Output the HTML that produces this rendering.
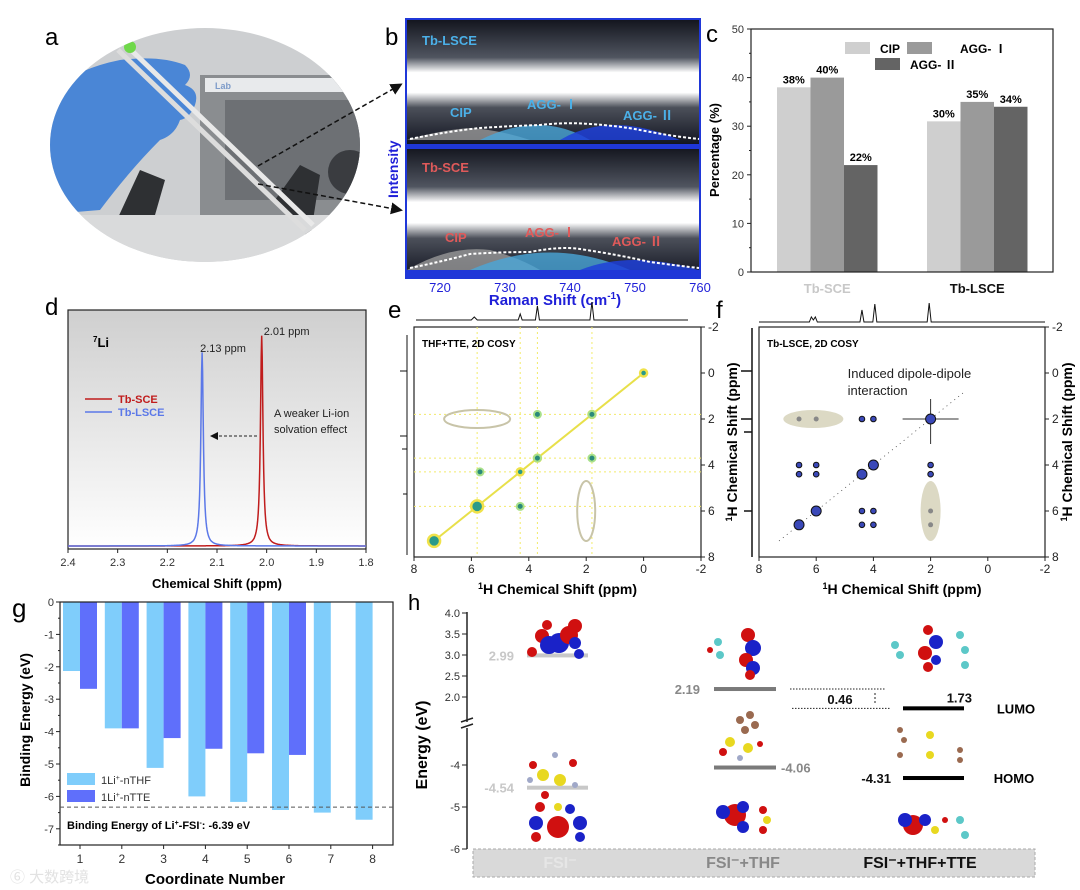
<!DOCTYPE html>
<html><head><meta charset="utf-8"><style>
html,body{margin:0;padding:0;background:#fff}
svg{display:block;font-family:"Liberation Sans","Noto Sans CJK SC",sans-serif}
</style></head><body>
<svg id="fig" width="1080" height="890" viewBox="0 0 1080 890" xmlns="http://www.w3.org/2000/svg">
<defs>
<linearGradient id="dBg" x1="0" y1="0" x2="0" y2="1"><stop offset="0" stop-color="#cfcfcf"/><stop offset="1" stop-color="#ffffff"/></linearGradient>
<linearGradient id="band" x1="0" y1="0" x2="0" y2="1"><stop offset="0" stop-color="#14161f"/><stop offset="0.3" stop-color="#505560"/><stop offset="0.42" stop-color="#fff"/><stop offset="0.58" stop-color="#fff"/><stop offset="0.7" stop-color="#4c505a"/><stop offset="1" stop-color="#111420"/></linearGradient>
<clipPath id="ell"><ellipse cx="205" cy="145" rx="155" ry="117"/></clipPath>
<marker id="ah" markerWidth="8" markerHeight="8" refX="6" refY="4" orient="auto"><path d="M0,0 L8,4 L0,8 z" fill="#111"/></marker>
</defs>

<!-- Panel a -->
<g>
<text x="45" y="45" font-size="24">a</text>
<g clip-path="url(#ell)">
<rect x="40" y="20" width="330" height="250" fill="#cdcfd1"/>
<rect x="200" y="75" width="170" height="140" fill="#8a8d90"/>
<rect x="225" y="100" width="140" height="100" fill="#6d7074"/>
<rect x="205" y="78" width="165" height="14" fill="#e8eaec"/>
<text x="215" y="89" font-size="9" fill="#7d9bc9" font-weight="bold">Lab</text>
<path d="M110,235 L140,170 L165,180 L145,250 Z" fill="#2e3033"/>
<path d="M275,200 L300,165 L320,175 L310,240 Z" fill="#2e3033"/>
<circle cx="350" cy="172" r="22" fill="#3a3c40"/>
<rect x="40" y="215" width="330" height="60" fill="#d9dadb"/>
<path d="M40,100 Q70,70 120,60 Q160,55 185,65 Q195,75 185,85 Q200,90 195,105 Q190,118 180,120 Q175,135 160,140 Q130,170 100,210 L40,215 Z" fill="#4a86d6"/>
<path d="M118,50 L305,230" stroke="#ddd" stroke-width="5"/>
<path d="M128,47 L313,225" stroke="#e9e9e9" stroke-width="5"/>
<circle cx="130" cy="47" r="6" fill="#6fd84a"/>
</g>
<path d="M258,166 L400,85" stroke="#111" stroke-width="1.5" stroke-dasharray="5,3" marker-end="url(#ah)"/>
<path d="M258,184 L400,210" stroke="#111" stroke-width="1.5" stroke-dasharray="5,3" marker-end="url(#ah)"/>
</g>

<!-- Panel b -->
<g>
<text x="385" y="45" font-size="24">b</text>
<rect x="407" y="20" width="292" height="125" fill="url(#band)"/>
<rect x="407" y="148" width="292" height="129" fill="url(#band)"/>
<rect x="406" y="19" width="294" height="259" fill="none" stroke="#1f37d8" stroke-width="2"/>
<rect x="406" y="144" width="294" height="5" fill="#1f37d8"/>
<rect x="406" y="270" width="294" height="7" fill="#1f37d8"/>
<path d="M407,140 Q440,130 470,128 Q500,130 530,140Z" fill="#999" opacity="0.8"/>
<path d="M480,140 Q540,110 590,140Z" fill="#4aa6d8" opacity="0.8"/>
<path d="M560,140 Q610,110 680,140Z" fill="#1f3fd8" opacity="0.85"/>
<path d="M407,270 Q450,245 490,250 Q520,258 540,270Z" fill="#999" opacity="0.8"/>
<path d="M470,270 Q550,235 630,270Z" fill="#4aa6d8" opacity="0.8"/>
<path d="M580,270 Q630,250 699,270Z" fill="#1f3fd8" opacity="0.85"/>
<path d="M410,139 Q450,131 480,128 Q510,126 540,125 Q565,122 590,124 Q620,126 640,130 Q670,136 699,139" fill="none" stroke="#fff" stroke-width="2" stroke-dasharray="3,2"/>
<path d="M410,268 Q440,262 470,254 Q500,252 530,252 Q560,246 580,249 Q620,255 650,262 Q680,266 699,268" fill="none" stroke="#fff" stroke-width="2" stroke-dasharray="3,2"/>
<text x="422" y="45" font-size="13" font-weight="bold" fill="#4bb0e8">Tb-LSCE</text>
<text x="450" y="117" font-size="13" font-weight="bold" fill="#4bb0e8">CIP</text>
<text x="527" y="109" font-size="13" font-weight="bold" fill="#4bb0e8">AGG- Ⅰ</text>
<text x="623" y="120" font-size="13" font-weight="bold" fill="#4bb0e8">AGG- Ⅱ</text>
<text x="422" y="172" font-size="13" font-weight="bold" fill="#e05a5a">Tb-SCE</text>
<text x="445" y="242" font-size="13" font-weight="bold" fill="#e05a5a">CIP</text>
<text x="525" y="237" font-size="13" font-weight="bold" fill="#e05a5a">AGG- Ⅰ</text>
<text x="612" y="246" font-size="13" font-weight="bold" fill="#e05a5a">AGG- Ⅱ</text>
<text transform="translate(398,198) rotate(-90)" font-size="14" font-weight="bold" fill="#1f1fd8">Intensity</text>
<g id="bTicks" font-size="13" fill="#1f1fd8" text-anchor="middle"></g>
<text x="555" y="305" font-size="15" font-weight="bold" fill="#1f1fd8" text-anchor="middle">Raman Shift (cm<tspan dy="-6" font-size="10">-1</tspan><tspan dy="6">)</tspan></text>
</g>

<g id="panelC">
<text x="706" y="42" font-size="24">c</text>
</g>

<g id="panelD">
<text x="45" y="315" font-size="24">d</text>
<rect x="68" y="310" width="298" height="239" fill="url(#dBg)" stroke="#222" stroke-width="1.2"/>
</g>

<g id="panelE">
<text x="388" y="318" font-size="24">e</text>
</g>
<g id="panelF">
<text x="716" y="318" font-size="24">f</text>
</g>

<g id="panelG">
<text x="12" y="617" font-size="26">g</text>
</g>

<g id="panelH">
<text x="408" y="610" font-size="22">h</text>
</g>
</svg>

<script>
var NS="http://www.w3.org/2000/svg";
function mk(parent,tag,attrs,txt){var e=document.createElementNS(NS,tag);for(var k in attrs)e.setAttribute(k,attrs[k]);if(txt!==undefined)e.textContent=txt;parent.appendChild(e);return e;}

// ---- Panel b ticks ----
var bTickLabels=[720,730,740,750,760];
var bG=document.getElementById('bTicks');
function bx(v){return 440+(v-720)*6.5;}
bTickLabels.forEach(function(t){var e=mk(bG,'text',{x:bx(t),y:292},t);

});

// ---- Panel c ----
var cGroups=["Tb-SCE","Tb-LSCE"];
var cSeries=["CIP","AGG- Ⅰ","AGG- Ⅱ"];
var cCIP=[38,31];
var cAGG1=[40,35];
var cAGG2=[22,34];
var cLabels=[["38%","40%","22%"],["30%","35%","34%"]];
var cTicks=[0,10,20,30,40,50];
(function(){
var g=document.getElementById('panelC');
var L=751,R=1053,T=29,B=272;
function cy(v){return B-(v/50)*(B-T);}
var cols=["#cfcfcf","#9a9a9a","#646464"];
var vals=[cCIP,cAGG1,cAGG2];
var gx=[777,927],bw=33.5;
cGroups.forEach(function(name,gi){
 vals.forEach(function(s,si){
  var x=gx[gi]+si*bw;
  var r=mk(g,'rect',{x:x,y:cy(s[gi]),width:bw,height:B-cy(s[gi]),fill:cols[si]});
  
  
  var t=mk(g,'text',{x:x+bw/2,y:cy(s[gi])-4,'font-size':11,'font-weight':'bold','text-anchor':'middle'},cLabels[gi][si]);
  
  
 });
 var lbl=mk(g,'text',{x:gx[gi]+bw*1.5,y:293,'font-size':13,'font-weight':'bold','text-anchor':'middle',fill:gi==0?'#c8c8c8':'#111'},name);
 
 
});
mk(g,'rect',{x:L,y:T,width:R-L,height:B-T,fill:'none',stroke:'#222','stroke-width':1.2});
cTicks.forEach(function(t){
 mk(g,'line',{x1:L-4,x2:L,y1:cy(t),y2:cy(t),stroke:'#222'});
 var e=mk(g,'text',{x:L-7,y:cy(t)+4,'font-size':11,'text-anchor':'end',fill:'#333'},t);
 
 
 if(t<50) mk(g,'line',{x1:L-2,x2:L,y1:cy(t+5),y2:cy(t+5),stroke:'#222'});
});
var yt=mk(g,'text',{transform:'translate(719,150) rotate(-90)','font-size':13,'font-weight':'bold','text-anchor':'middle'},'Percentage (%)');


var lg=[[845,42,'CIP',880],[907,42,'AGG- Ⅰ',960],[875,58,'AGG- Ⅱ',910]];
lg.forEach(function(l,i){
 var r=mk(g,'rect',{x:l[0],y:l[1],width:25,height:12,fill:cols[i]});
 
 
 var t=mk(g,'text',{x:l[3],y:l[1]+11,'font-size':12,'font-weight':'bold'},l[2]);
 
 
});
})();

// ---- Panel d ----
var dTicks=[2.4,2.3,2.2,2.1,2.0,1.9,1.8];
var dCenters=[2.01,2.13];
var dHeights=[0.88,0.81];
var dWidths=[0.003,0.003];
var dNames=["Tb-SCE","Tb-LSCE"];
(function(){
var g=document.getElementById('panelD');
var L=68,R=366,T=310,B=549;
function dx(v){return L+(2.4-v)/0.6*(R-L);}
function dy(v){return B-3-v*(B-T);}
var cols=["#c01c1c","#5b78e8"];
dCenters.forEach(function(c,i){
 var pts=[];
 for(var p=0;p<=600;p++){var v=2.4-p*0.001;var w=dWidths[i];var y=dHeights[i]*w*w/((v-c)*(v-c)+w*w);pts.push(dx(v).toFixed(1)+','+dy(y).toFixed(1));}
 var pl=mk(g,'polyline',{points:pts.join(' '),fill:'none',stroke:cols[i],'stroke-width':1.5});
 
 
});
dTicks.forEach(function(t){
 mk(g,'line',{x1:dx(t),x2:dx(t),y1:B,y2:B+4,stroke:'#222'});
 var e=mk(g,'text',{x:dx(t),y:B+17,'font-size':11,'text-anchor':'middle',fill:'#333'},t.toFixed(1));
 
 
});
var xt=mk(g,'text',{x:217,y:588,'font-size':13,'font-weight':'bold','text-anchor':'middle'},'Chemical Shift (ppm)');


mk(g,'text',{x:93,y:347,'font-size':13,'font-weight':'bold'}).innerHTML='<tspan dy="-5" font-size="8">7</tspan><tspan dy="5">Li</tspan>';
mk(g,'text',{x:dx(dCenters[0])+2,y:335,'font-size':11,fill:'#222'},'2.01 ppm');
mk(g,'text',{x:dx(dCenters[1])-2,y:352,'font-size':11,fill:'#222'},'2.13 ppm');
mk(g,'line',{x1:85,x2:112,y1:399,y2:399,stroke:cols[0],'stroke-width':1.5});
mk(g,'line',{x1:85,x2:112,y1:412,y2:412,stroke:cols[1],'stroke-width':1.5});
var l1=mk(g,'text',{x:118,y:403,'font-size':11,'font-weight':'bold',fill:cols[0]},'Tb-SCE');


var l2=mk(g,'text',{x:118,y:416,'font-size':11,'font-weight':'bold',fill:cols[1]},'Tb-LSCE');


mk(g,'text',{x:274,y:417,'font-size':11,fill:'#222'},'A weaker Li-ion');
mk(g,'text',{x:274,y:433,'font-size':11,fill:'#222'},'solvation effect');
mk(g,'line',{x1:257,x2:212,y1:436,y2:436,stroke:'#222','stroke-dasharray':'3,2','marker-end':'url(#ah)'});
})();

// ---- Panels e & f (COSY) ----
var eDiagonal=[0,1.8,3.7,4.3,5.8,7.3];
var eCrossX=[3.7,1.8,3.7,1.8,5.7,4.3];
var eCrossY=[1.8,3.7,3.7,1.8,4.3,5.8];
var fPeakX=[2,4,4.4,4,4.4,2,6.6,6.0,6.6,6.0,2,6.0,6.6,4.4,4,4.4,4];
var fPeakY=[2,2,2,4,4.4,4,4,4,4.4,4.4,4.4,6,6.6,6,6,6.6,6.6];
var fGrayX=[6.6,6.0,2,2];
var fGrayY=[2,2,6,6.6];
var cosyTicks=[8,6,4,2,0,-2];
var cosyYTicks=[-2,0,2,4,6,8];
function cosyFrame(g,L,T,W,name,titleX){
 var R=L+W,B=T+230;
 function sx(v){return L+(8-v)*W/10;}
 function sy(v){return T+(v+2)*23;}
 mk(g,'rect',{x:L,y:T,width:W,height:230,fill:'#fff',stroke:'#222','stroke-width':1.2});
 cosyTicks.forEach(function(t){
  mk(g,'line',{x1:sx(t),x2:sx(t),y1:B,y2:B+4,stroke:'#222'});
  var e=mk(g,'text',{x:sx(t),y:B+16,'font-size':12,'text-anchor':'middle',fill:'#222'},t);
  
  
 });
 cosyYTicks.forEach(function(t){
  mk(g,'line',{x1:R,x2:R+4,y1:sy(t),y2:sy(t),stroke:'#222'});
  var e=mk(g,'text',{x:R+7,y:sy(t)+4,'font-size':12,fill:'#222'},t);
  
  
 });
 var xt=mk(g,'text',{x:L+W/2,y:B+37,'font-size':14,'font-weight':'bold','text-anchor':'middle'});
 xt.innerHTML='<tspan dy="-5" font-size="9">1</tspan><tspan dy="5">H Chemical Shift (ppm)</tspan>';
 
 
 var yt=mk(g,'text',{transform:'translate('+titleX+','+(T+115)+') rotate(-90)','font-size':14,'font-weight':'bold','text-anchor':'middle'});
 yt.innerHTML='<tspan dy="-5" font-size="9">1</tspan><tspan dy="5">H Chemical Shift (ppm)</tspan>';
 
 
 mk(g,'text',{x:L+8,y:T+20,'font-size':10,'font-weight':'bold'},name);
 return {sx:sx,sy:sy};
}
(function(){
var g=document.getElementById('panelE');
var L=414,W=287;
var s=cosyFrame(g,L,327,W,'THF+TTE, 2D COSY',737);
[1.8,3.7,4.3,5.8].forEach(function(v){
 mk(g,'line',{x1:L,x2:L+W,y1:s.sy(v),y2:s.sy(v),stroke:'#f2ea6a','stroke-width':1,'stroke-dasharray':'2,3'});
 mk(g,'line',{x1:s.sx(v),x2:s.sx(v),y1:327,y2:557,stroke:'#f2ea6a','stroke-width':1,'stroke-dasharray':'2,3'});
});
mk(g,'line',{x1:s.sx(7.3),y1:s.sy(7.3),x2:s.sx(0),y2:s.sy(0),stroke:'#e8e04a','stroke-width':2});
eDiagonal.forEach(function(v){
 var c=mk(g,'circle',{cx:s.sx(v),cy:s.sy(v),r:v>5?6:3.5,fill:'#2a9a8a',stroke:'#f0e24a','stroke-width':2.5});
 
 
});
eCrossX.forEach(function(x,i){
 var c=mk(g,'circle',{cx:s.sx(x),cy:s.sy(eCrossY[i]),r:3.5,fill:'#2a8a7a',stroke:'#a8e08a','stroke-width':2});
 
 
});
mk(g,'ellipse',{cx:s.sx(5.8),cy:s.sy(2),rx:33,ry:9,fill:'none',stroke:'#c8c4a8','stroke-width':2});
mk(g,'ellipse',{cx:s.sx(2),cy:s.sy(6),rx:9,ry:30,fill:'none',stroke:'#c8c4a8','stroke-width':2});
var xs=function(v){return s.sx(v);};
mk(g,'path',{d:'M416,320 L'+(xs(5.9)-3)+',320 L'+xs(5.9)+',317 L'+(xs(5.9)+3)+',320 L'+(xs(4.3)-2)+',320 L'+xs(4.3)+',314 L'+(xs(4.3)+2)+',320 L'+(xs(3.7)-2)+',320 L'+xs(3.7)+',306 L'+(xs(3.7)+2)+',320 L'+(xs(1.8)-2)+',320 L'+xs(1.8)+',302 L'+(xs(1.8)+2)+',320 L688,320',fill:'none',stroke:'#111','stroke-width':1});
mk(g,'path',{d:'M407,335 L407,555 M407,371 L400,371 M407,436 L400,436 M407,449 L402,449 M407,494 L403,494',fill:'none',stroke:'#111','stroke-width':1});
})();
(function(){
var g=document.getElementById('panelF');
var L=759,W=286;
var s=cosyFrame(g,L,327,W,'Tb-LSCE, 2D COSY',1072);
mk(g,'ellipse',{cx:s.sx(6.1),cy:s.sy(2),rx:30,ry:9,fill:'#dcd9c4'});
mk(g,'ellipse',{cx:s.sx(2),cy:s.sy(6),rx:10,ry:30,fill:'#dcd9c4'});
mk(g,'line',{x1:s.sx(7.3),y1:s.sy(7.3),x2:s.sx(0.8),y2:s.sy(0.8),stroke:'#444','stroke-width':0.8,'stroke-dasharray':'1,4'});
mk(g,'path',{d:'M'+(s.sx(2)-28)+','+s.sy(2)+' L'+(s.sx(2)+28)+','+s.sy(2)+' M'+s.sx(2)+','+(s.sy(2)-20)+' L'+s.sx(2)+','+(s.sy(2)+25),stroke:'#333','stroke-width':1});
fPeakX.forEach(function(x,i){
 var big=(x==fPeakY[i]);
 var c=mk(g,'circle',{cx:s.sx(x),cy:s.sy(fPeakY[i]),r:big?5:2.8,fill:'#3a48b8',stroke:'#111','stroke-width':1});
 
 
});
fGrayX.forEach(function(x,i){
 var c=mk(g,'circle',{cx:s.sx(x),cy:s.sy(fGrayY[i]),r:2.5,fill:'#888'});
 
 
});
mk(g,'text',{x:s.sx(4.9),y:378,'font-size':13,fill:'#222'},'Induced dipole-dipole');
mk(g,'text',{x:s.sx(4.9),y:395,'font-size':13,fill:'#222'},'interaction');
var xs=function(v){return s.sx(v);};
mk(g,'path',{d:'M759,322 L'+(xs(6.1)-4)+',322 L'+(xs(6.1)-2)+',317 L'+xs(6.1)+',320 L'+(xs(6.1)+2)+',317 L'+(xs(6.1)+4)+',322 L'+(xs(4.4)-2)+',322 L'+xs(4.4)+',310 L'+(xs(4.4)+2)+',322 L'+(xs(3.95)-2)+',322 L'+xs(3.95)+',304 L'+(xs(3.95)+2)+',322 L'+(xs(2.05)-2)+',322 L'+xs(2.05)+',303 L'+(xs(2.05)+2)+',322 L1045,322',fill:'none',stroke:'#111','stroke-width':1});
mk(g,'path',{d:'M752,328 L752,557 M752,371 L741,371 M752,419 L741,419 M752,432 L744,432 M752,511 L744,511',fill:'none',stroke:'#111','stroke-width':1.5});
})();

// ---- Panel g ----
var gCategories=[1,2,3,4,5,6,7,8];
var gTHF=[-2.13,-3.9,-5.12,-6.0,-6.17,-6.42,-6.5,-6.72];
var gTTE=[-2.68,-3.9,-4.2,-4.53,-4.67,-4.72];
var gYTicks=[0,-1,-2,-3,-4,-5,-6,-7];
var gRef=[-6.33];
(function(){
var g=document.getElementById('panelG');
var L=60,R=393,T=602,B=845;
function gx(c){return 80+(c-1)*41.8;}
function gy(v){return T-v*32.4;}
var bw=17;
gCategories.forEach(function(c,i){
 var r=mk(g,'rect',{x:gx(c)-bw,y:T,width:bw,height:gy(gTHF[i])-T,fill:'#7fcdfb'});
 
 
 if(i<gTTE.length){
  var r2=mk(g,'rect',{x:gx(c),y:T,width:bw,height:gy(gTTE[i])-T,fill:'#5f6ffb'});
  
  
 }
 mk(g,'line',{x1:gx(c),x2:gx(c),y1:B,y2:B+4,stroke:'#222'});
 var t=mk(g,'text',{x:gx(c),y:B+18,'font-size':12,'text-anchor':'middle',fill:'#333'},c);
 
 
});
mk(g,'rect',{x:L,y:T,width:R-L,height:B-T,fill:'none',stroke:'#222','stroke-width':1.2});
gYTicks.forEach(function(t){
 mk(g,'line',{x1:L-4,x2:L,y1:gy(t),y2:gy(t),stroke:'#222'});
 mk(g,'line',{x1:L-2,x2:L,y1:gy(t-0.5),y2:gy(t-0.5),stroke:'#222'});
 var e=mk(g,'text',{x:L-6,y:gy(t)+4,'font-size':11,'text-anchor':'end',fill:'#333'},t);
 
 
});
var dl=mk(g,'line',{x1:L,x2:R,y1:gy(gRef[0]),y2:gy(gRef[0]),stroke:'#555','stroke-dasharray':'4,3'});


mk(g,'text',{x:67,y:829,'font-size':11,'font-weight':'bold'}).innerHTML='Binding Energy of Li<tspan dy="-4" font-size="7">+</tspan><tspan dy="4">-FSI</tspan><tspan dy="-4" font-size="7">-</tspan><tspan dy="4">: -6.39 eV</tspan>';
mk(g,'rect',{x:67,y:773,width:28,height:12,fill:'#7fcdfb'});
mk(g,'rect',{x:67,y:790,width:28,height:12,fill:'#5f6ffb'});
var le1=mk(g,'text',{x:101,y:784,'font-size':11,fill:'#333'});
le1.innerHTML='1Li<tspan dy="-4" font-size="7">+</tspan><tspan dy="4">-nTHF</tspan>';


var le2=mk(g,'text',{x:101,y:801,'font-size':11,fill:'#333'});
le2.innerHTML='1Li<tspan dy="-4" font-size="7">+</tspan><tspan dy="4">-nTTE</tspan>';


var yt=mk(g,'text',{transform:'translate(30,720) rotate(-90)','font-size':14,'font-weight':'bold','text-anchor':'middle'},'Binding Energy (eV)');


var xt=mk(g,'text',{x:215,y:884,'font-size':15,'font-weight':'bold','text-anchor':'middle'},'Coordinate Number');


mk(g,'text',{x:10,y:882,'font-size':15,fill:'#e2e2e2'},'⑥ 大数跨境');
})();

// ---- Panel h ----
var hSystems=["FSI⁻","FSI⁻+THF","FSI⁻+THF+TTE"];
var hLUMO=[2.99,2.19,1.73];
var hHOMO=[-4.54,-4.06,-4.31];
var hUpperTicks=[4.0,3.5,3.0,2.5,2.0];
var hLowerTicks=[-4,-5,-6];
(function(){
var g=document.getElementById('panelH');
var L=467;
function yU(v){return 613+(4-v)*42;}
function yLo(v){return 765+(-4-v)*42;}
mk(g,'line',{x1:L,x2:L,y1:612,y2:722,stroke:'#222','stroke-width':1.5});
mk(g,'line',{x1:L,x2:L,y1:728,y2:849,stroke:'#222','stroke-width':1.5});
mk(g,'path',{d:'M461,722 L473,718 M461,728 L473,724',stroke:'#222','stroke-width':1.5});
hUpperTicks.forEach(function(t){
 mk(g,'line',{x1:L-5,x2:L,y1:yU(t),y2:yU(t),stroke:'#222'});
 var e=mk(g,'text',{x:L-7,y:yU(t)+4,'font-size':11,'text-anchor':'end',fill:'#333'},t.toFixed(1));
 
 
});
hLowerTicks.forEach(function(t){
 mk(g,'line',{x1:L-5,x2:L,y1:yLo(t),y2:yLo(t),stroke:'#222'});
 var e=mk(g,'text',{x:L-7,y:yLo(t)+4,'font-size':11,'text-anchor':'end',fill:'#333'},t);
 
 
});
var yt=mk(g,'text',{transform:'translate(427,745) rotate(-90)','font-size':16,'font-weight':'bold','text-anchor':'middle'},'Energy (eV)');


var bx=[[527,588],[714,776],[903,964]];
var colsL=['#c8c8c8','#7a7a7a','#000'];
var colsT=['#c8c8c8','#888','#111'];
hSystems.forEach(function(s,i){
 var l=mk(g,'rect',{x:bx[i][0],y:yU(hLUMO[i])-2,width:bx[i][1]-bx[i][0],height:4,fill:colsL[i]});
 
 
 var h=mk(g,'rect',{x:bx[i][0],y:yLo(hHOMO[i])-2,width:bx[i][1]-bx[i][0],height:4,fill:colsL[i]});
 
 
});
function lbl(x,y,t,c,a){var e=mk(g,'text',{x:x,y:y,'font-size':13,'font-weight':'bold',fill:c,'text-anchor':a||'end'},t);}
lbl(514,yU(hLUMO[0])+5,hLUMO[0].toFixed(2),colsT[0]);
lbl(514,yLo(hHOMO[0])+5,hHOMO[0].toFixed(2),colsT[0]);
lbl(700,yU(hLUMO[1])+5,hLUMO[1].toFixed(2),colsT[1]);
lbl(781,yLo(hHOMO[1])+5,hHOMO[1].toFixed(2),colsT[1],'start');
lbl(972,yU(hLUMO[2])-6,hLUMO[2].toFixed(2),colsT[2]);
lbl(891,yLo(hHOMO[2])+5,hHOMO[2].toFixed(2),colsT[2]);
mk(g,'line',{x1:790,x2:886,y1:yU(hLUMO[1]),y2:yU(hLUMO[1]),stroke:'#222','stroke-dasharray':'1.5,1.5'});
mk(g,'line',{x1:792,x2:890,y1:yU(hLUMO[2]),y2:yU(hLUMO[2]),stroke:'#222','stroke-dasharray':'1.5,1.5'});
mk(g,'line',{x1:875,x2:875,y1:yU(hLUMO[1])+4,y2:yU(hLUMO[2])-4,stroke:'#222','stroke-dasharray':'2,2'});
lbl(840,yU(1.95)+5,(hLUMO[1]-hLUMO[2]).toFixed(2),'#111','middle');
mk(g,'text',{x:1016,y:yU(hLUMO[2])+5,'font-size':13,'font-weight':'bold','text-anchor':'middle'},'LUMO');
mk(g,'text',{x:1014,y:yLo(hHOMO[2])+5,'font-size':13,'font-weight':'bold','text-anchor':'middle'},'HOMO');
function blob(cx,cy,list){list.forEach(function(b){mk(g,'circle',{cx:cx+b[0],cy:cy+b[1],r:b[2],fill:b[3]});});}
var R1='#d01010',B1='#1a22c8',Y='#e8d820',C='#5cc8c8',Br='#9a6a50',Gy='#a0a8c8';
blob(557,640,[[-15,-4,7,R1],[-8,5,9,B1],[2,3,10,B1],[12,-5,9,R1],[18,3,6,B1],[-25,12,5,R1],[22,14,5,B1],[-10,-15,5,R1],[18,-14,7,R1]]);
blob(555,775,[[-12,0,6,Y],[5,5,6,Y],[-22,-10,4,R1],[18,-12,4,R1],[0,-20,3,Gy],[-25,5,3,Gy],[20,10,3,Gy],[-10,20,4,R1]]);
blob(558,825,[[0,2,11,R1],[-22,-2,7,B1],[22,-2,7,B1],[-18,-18,5,R1],[12,-16,5,B1],[-22,12,5,R1],[22,12,5,B1],[0,-18,4,Y]]);
blob(748,650,[[0,-15,7,R1],[5,-2,8,B1],[-2,10,7,R1],[5,18,7,B1],[2,25,5,R1],[-30,-8,4,C],[-28,5,4,C],[-38,0,3,R1]]);
blob(745,720,[[-5,0,4,Br],[5,-5,4,Br],[10,5,4,Br],[0,10,4,Br],[-15,22,5,Y],[3,28,5,Y],[-22,32,4,R1],[15,24,3,R1],[-5,38,3,Gy]]);
blob(735,815,[[0,0,11,R1],[-12,-3,7,B1],[8,-8,6,B1],[8,12,6,B1],[28,-5,4,R1],[32,5,4,Y],[28,15,4,R1]]);
blob(928,645,[[0,-15,5,R1],[8,-3,7,B1],[-3,8,7,R1],[8,15,5,B1],[0,22,5,R1],[-33,0,4,C],[-28,10,4,C],[32,-10,4,C],[37,5,4,C],[37,20,4,C]]);
blob(928,745,[[-28,-15,3,Br],[-24,-5,3,Br],[-28,10,3,Br],[2,-10,4,Y],[2,10,4,Y],[32,5,3,Br],[32,15,3,Br]]);
blob(925,825,[[-12,0,10,R1],[-20,-5,7,B1],[0,-5,6,B1],[10,5,4,Y],[20,-5,3,R1],[35,-5,4,C],[40,10,4,C]]);
mk(g,'rect',{x:473,y:849,width:562,height:28,fill:'#d9d9d9',stroke:'#aaa','stroke-dasharray':'3,2'});
var sx=[560,743,920],sc=['#e6e6e6','#888','#111'];
hSystems.forEach(function(s,i){
 var t=mk(g,'text',{x:sx[i],y:868,'font-size':16,'font-weight':'bold','text-anchor':'middle',fill:sc[i]},s);
 
 
});
})();
</script>
</body></html>
